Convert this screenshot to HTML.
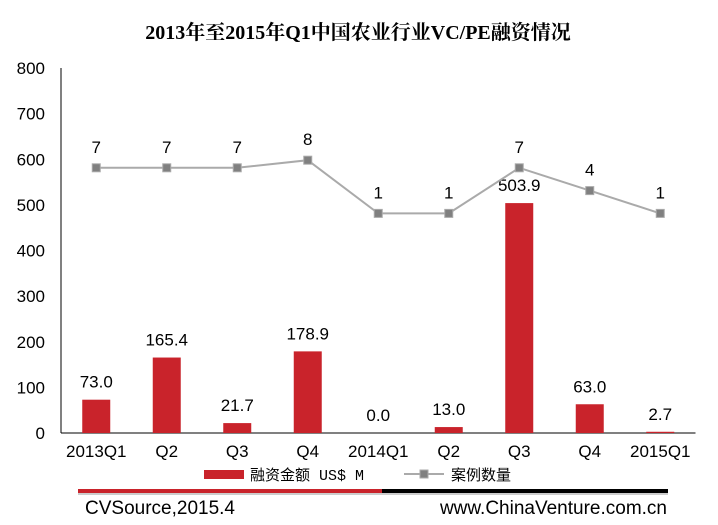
<!DOCTYPE html>
<html><head><meta charset="utf-8"><style>
body{margin:0;background:#fff;}
svg text{font-family:"Liberation Sans","Noto Sans CJK SC",sans-serif;}
</style></head><body>
<svg width="718" height="520" xmlns="http://www.w3.org/2000/svg" id="chart">
<rect width="718" height="520" fill="#fff"/>
<text x="358" y="39" text-anchor="middle" font-size="20" font-weight="bold" style="font-family:'Liberation Serif','Noto Serif CJK SC',serif">2013年至2015年Q1中国农业行业VC/PE融资情况</text>
<g id="axes"></g><g id="bars"></g><g id="line"></g>
<g>
<rect x="204" y="470" width="40" height="9" fill="#c9232b"/>
<text x="250" y="480" font-size="15" style="font-family:'Liberation Mono','Noto Sans CJK SC',monospace">融资金额 US$ M</text>
<line x1="404" y1="474" x2="444" y2="474" stroke="#aaa" stroke-width="2"/>
<rect x="420" y="470" width="8" height="8" fill="#808080" stroke="#aaa"/>
<text x="451" y="480" font-size="15">案例数量</text>
</g>
<rect x="78" y="489" width="304" height="4" fill="#c9232b"/>
<rect x="382" y="489" width="286" height="4" fill="#000"/>
<rect x="78" y="493" width="590" height="2" fill="#ccc"/>
<text x="85" y="514" font-size="19">CVSource,2015.4</text>
<text x="667" y="514" font-size="19" text-anchor="end">www.ChinaVenture.com.cn</text>
</svg>
<script>
const categories=["2013Q1","Q2","Q3","Q4","2014Q1","Q2","Q3","Q4","2015Q1"];
const amounts=[73.0,165.4,21.7,178.9,0.0,13.0,503.9,63.0,2.7];
const cases=[7,7,7,8,1,1,7,4,1];
const yTicks=[0,100,200,300,400,500,600,700,800];
const NS="http://www.w3.org/2000/svg";
const x0=61,band=70.5,yBase=433,yTop=68;
const xc=i=>x0+band*(i+0.5);
const y=v=>yBase-(v/800)*(yBase-yTop);
const y2=v=>221-7.6*v;
function mk(tag,attrs,parent,text){const e=document.createElementNS(NS,tag);for(const k in attrs)e.setAttribute(k,attrs[k]);if(text!==undefined)e.textContent=text;document.getElementById(parent).appendChild(e);return e;}
let e=mk("line",{x1:x0,y1:yTop,x2:x0,y2:yBase,stroke:"#000","stroke-width":1},"axes");


e=mk("line",{x1:x0,y1:yBase,x2:x0+band*9,y2:yBase,stroke:"#000","stroke-width":1},"axes");


yTicks.forEach(t=>{const el=mk("text",{x:45,y:y(t)+6,"text-anchor":"end","font-size":17},"axes",String(t));

});
categories.forEach((c,i)=>{const el=mk("text",{x:xc(i),y:457,"text-anchor":"middle","font-size":17},"axes",c);

});
amounts.forEach((v,i)=>{const b=mk("rect",{x:xc(i)-14,y:y(v),width:28,height:yBase-y(v),fill:"#c9232b"},"bars");


const t=mk("text",{x:xc(i),y:y(v)-12,"text-anchor":"middle","font-size":17},"bars",v.toFixed(1));

});
const pts=cases.map((v,i)=>xc(i)+","+y2(v)).join(" ");
const pl=mk("polyline",{points:pts,fill:"none",stroke:"#aaa","stroke-width":2},"line");


cases.forEach((v,i)=>{const m=mk("rect",{x:xc(i)-4,y:y2(v)-4,width:8,height:8,fill:"#808080",stroke:"#aaa"},"line");


const t=mk("text",{x:xc(i),y:y2(v)-15,"text-anchor":"middle","font-size":17},"line",String(v));

});
</script>
</body></html>
